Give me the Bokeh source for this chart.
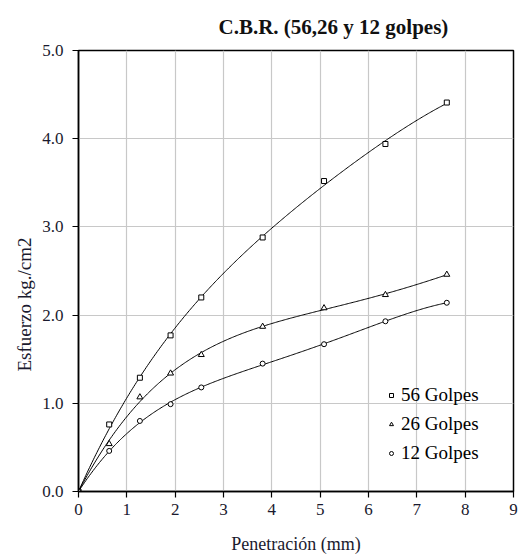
import numpy as np
from bokeh.plotting import figure
from bokeh.models import Range1d, FixedTicker, PrintfTickFormatter, Legend, LegendItem, Title
from bokeh.embed import file_html
from bokeh.resources import INLINE

penetracion = [0, 0.635, 1.27, 1.905, 2.54, 3.81, 5.08, 6.35, 7.62]
golpes_56 = [0, 0.76, 1.29, 1.77, 2.20, 2.88, 3.52, 3.94, 4.41]
golpes_26 = [0, 0.54, 1.07, 1.34, 1.55, 1.87, 2.08, 2.23, 2.46]
golpes_12 = [0, 0.46, 0.80, 0.99, 1.18, 1.45, 1.67, 1.93, 2.14]
series_names = ["56 Golpes", "26 Golpes", "12 Golpes"]
x_ticks = list(range(0, 10))
y_ticks = [0, 1, 2, 3, 4, 5]

FONT = "Liberation Serif"


def trend(xs, ys, deg=4, n=300):
    # least-squares polynomial trend line through the origin
    x = np.asarray(xs, float)
    y = np.asarray(ys, float)
    X = np.column_stack([x ** k for k in range(1, deg + 1)])
    coef, *_ = np.linalg.lstsq(X, y, rcond=None)
    xx = np.linspace(x[0], x[-1], n)
    yy = sum(c * xx ** k for k, c in zip(range(1, deg + 1), coef))
    return xx, yy


p = figure(width=519, height=556, output_backend="svg", toolbar_location=None,
           x_range=Range1d(0, 9), y_range=Range1d(0, 5),
           frame_width=435, frame_height=441,
           min_border_left=78, min_border_right=5, min_border_top=0, min_border_bottom=65,
           title="C.B.R. (56,26 y 12 golpes)")
p.background_fill_color = "white"
p.border_fill_color = "white"
p.outline_line_color = "black"
p.outline_line_width = 1.5

p.title.text_font = FONT
p.title.text_font_size = "21px"
p.title.text_font_style = "bold"
p.title.align = "left"
p.title.text_color = "#111"
p.title.offset = 140
p.title.standoff = 24

for ax in (p.xaxis[0], p.yaxis[0]):
    ax.axis_line_color = "black"
    ax.axis_line_width = 1.5
    ax.major_tick_line_color = "black"
    ax.major_tick_line_width = 1.2
    ax.major_tick_out = 6
    ax.major_tick_in = 0
    ax.minor_tick_line_color = None
    ax.major_label_text_font = FONT
    ax.major_label_text_font_size = "17px"
    ax.major_label_text_color = "#1a1a2e"
    ax.axis_label_text_font = FONT
    ax.axis_label_text_font_size = "18px"
    ax.axis_label_text_font_style = "normal"
    ax.axis_label_text_color = "#1a1a2e"

p.xaxis.ticker = FixedTicker(ticks=x_ticks)
p.yaxis.ticker = FixedTicker(ticks=y_ticks)
p.yaxis.formatter = PrintfTickFormatter(format="%.1f")
p.xaxis.axis_label = "Penetración (mm)"
p.xaxis.major_label_standoff = 6
p.yaxis.major_label_standoff = 9
p.xaxis.axis_label_standoff = 16

ytitle = Title(text="Esfuerzo kg./cm2", align="left", offset=120,
               text_font=FONT, text_font_size="19px", text_font_style="normal",
               text_color="#1a1a2e", standoff=10)
p.add_layout(ytitle, "left")

p.grid.grid_line_color = "#c8c8c8"
p.grid.grid_line_width = 1.2

items = []
for ys, name, marker in zip([golpes_56, golpes_26, golpes_12], series_names,
                            ["square", "triangle", "circle"]):
    sx, sy = trend(penetracion, ys)
    p.line(sx, sy, line_color="black", line_width=1)
    size = 5 if marker != "triangle" else 6
    r = p.scatter(penetracion, ys, marker=marker, size=size, line_color="black",
                  line_width=1, fill_color="white")
    items.append(LegendItem(label=name, renderers=[r]))

legend = Legend(items=items, location=(308, 27))
legend.background_fill_alpha = 0
legend.border_line_color = None
legend.label_text_font = FONT
legend.label_text_font_size = "19px"
legend.label_text_color = "black"
legend.glyph_width = 10
legend.glyph_height = 18
legend.label_height = 18
legend.spacing = 7
legend.label_standoff = 5
legend.margin = 0
legend.padding = 6
p.add_layout(legend)

open("out.html", "w").write(file_html(p, INLINE))
